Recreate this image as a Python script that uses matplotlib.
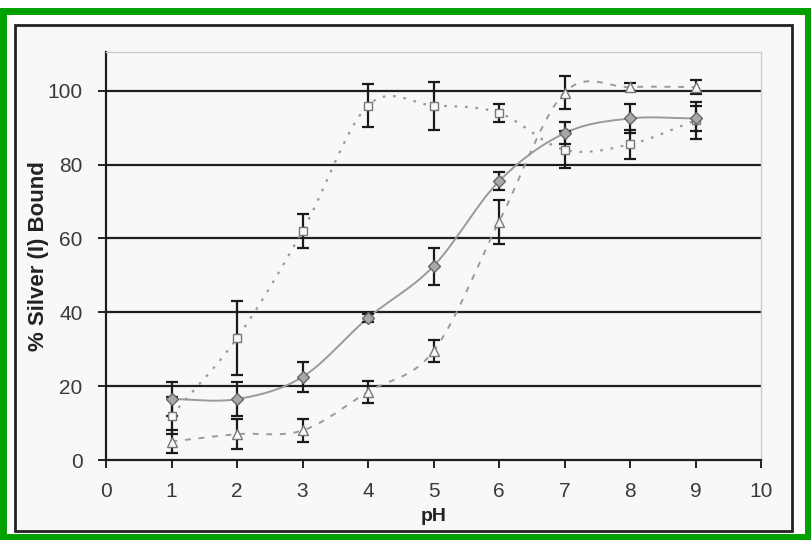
import numpy as np
import matplotlib.pyplot as plt
from matplotlib.patches import Rectangle

plt.rcParams['font.family'] = ['Liberation Sans', 'DejaVu Sans']

ph = [1, 2, 3, 4, 5, 6, 7, 8, 9]

diamond = [16.5, 16.5, 22.5, 38.5, 52.5, 75.5, 88.5, 92.5, 92.5]
diamond_err = [4.5, 4.5, 4, 1, 5, 2.5, 3, 4, 3.5]

square = [12, 33, 62, 96, 96, 94, 84, 85.5, 92]
square_err = [5, 10, 4.7, 5.7, 6.5, 2.5, 5, 4, 5]

triangle = [5, 7, 8, 18.5, 29.5, 64.5, 99.5, 101, 101]
triangle_err = [3, 4, 3, 3, 3, 6, 4.5, 1, 2]

y_ticks = [0, 20, 40, 60, 80, 100]
x_ticks = [0, 1, 2, 3, 4, 5, 6, 7, 8, 9, 10]


def smooth(x, y, n=30):
    # Catmull-Rom curve through the points, like a spreadsheet "smoothed line"
    x = np.asarray(x, float)
    y = np.asarray(y, float)
    px = np.concatenate([[2 * x[0] - x[1]], x, [2 * x[-1] - x[-2]]])
    py = np.concatenate([[2 * y[0] - y[1]], y, [2 * y[-1] - y[-2]]])
    xs, ys = [], []
    t = np.linspace(0, 1, n)
    for i in range(1, len(px) - 2):
        for arr, out in ((px, xs), (py, ys)):
            p0, p1, p2, p3 = arr[i - 1], arr[i], arr[i + 1], arr[i + 2]
            out.extend(0.5 * (2 * p1 + (-p0 + p2) * t
                              + (2 * p0 - 5 * p1 + 4 * p2 - p3) * t ** 2
                              + (-p0 + 3 * p1 - 3 * p2 + p3) * t ** 3))
    return np.array(xs), np.array(ys)


fig = plt.figure(figsize=(8.11, 5.4), dpi=100)
fig.patch.set_facecolor('white')

W, H = 811, 540
# green frame and the scanned page box, kept behind the axes
fig.patches.append(Rectangle((3 / W, 3 / H), (W - 6) / W, (H - 14) / H,
                             transform=fig.transFigure, fill=False,
                             edgecolor='#00a000', linewidth=5, zorder=-5))
fig.patches.append(Rectangle((15 / W, 1 - 531 / H), (792 - 15) / W, (531 - 25) / H,
                             transform=fig.transFigure, facecolor='#f8f8f8',
                             edgecolor='#222222', linewidth=2, zorder=-5))

ax = fig.add_axes([106 / W, 1 - 460 / H, (761 - 106) / W, (460 - 52) / H])
ax.set_zorder(1)
ax.set_facecolor('#f8f8f8')
ax.set_xlim(0, 10)
ax.set_ylim(0, 110.5)

for yv in y_ticks[1:]:
    ax.axhline(yv, color='#1e1e1e', linewidth=1.6, zorder=1)

gray = '#9a9a9a'

sx, sy = smooth(ph, square)
ax.plot(sx, sy, color=gray, linestyle=(0, (1.2, 3.5)), linewidth=1.6, zorder=2)
tx, ty = smooth(ph, triangle)
ax.plot(tx, ty, color=gray, linestyle=(0, (3, 4)), linewidth=1.4, zorder=2)
dx, dy = smooth(ph, diamond)
ax.plot(dx, dy, color=gray, linestyle='-', linewidth=1.4, zorder=2)

err_kw = dict(fmt='none', ecolor='#1a1a1a', elinewidth=1.6, capsize=4,
              capthick=1.6, zorder=3)
ax.errorbar(ph, square, yerr=square_err, **err_kw)
ax.errorbar(ph, triangle, yerr=triangle_err, **err_kw)
ax.errorbar(ph, diamond, yerr=diamond_err, **err_kw)

ax.plot(ph, square, linestyle='none', marker='s', markersize=6,
        markerfacecolor='#f8f8f8', markeredgecolor='#777777',
        markeredgewidth=1, zorder=4)
ax.plot(ph, triangle, linestyle='none', marker='^', markersize=7,
        markerfacecolor='#f8f8f8', markeredgecolor='#777777',
        markeredgewidth=1, zorder=4)
ax.plot(ph, diamond, linestyle='none', marker='D', markersize=6,
        markerfacecolor='#a8a8a8', markeredgecolor='#666666',
        markeredgewidth=1, zorder=5)

ax.set_xticks(x_ticks)
ax.set_yticks(y_ticks)
ax.tick_params(axis='both', direction='out', length=6, width=1.4,
               colors='#222222', labelsize=15, labelcolor='#3a3a3a')
ax.tick_params(axis='y', pad=11)
ax.tick_params(axis='x', pad=10)

for side in ('left', 'bottom'):
    ax.spines[side].set_color('#1e1e1e')
    ax.spines[side].set_linewidth(1.6)
for side in ('top', 'right'):
    ax.spines[side].set_color('#cccccc')
    ax.spines[side].set_linewidth(1)

ax.set_xlabel('pH', fontsize=14, fontweight='bold', color='#222222', labelpad=5)
ax.set_ylabel('% Silver (I) Bound', fontsize=16, fontweight='bold',
              color='#222222', labelpad=-1)

fig.savefig('out.png', dpi=100)
